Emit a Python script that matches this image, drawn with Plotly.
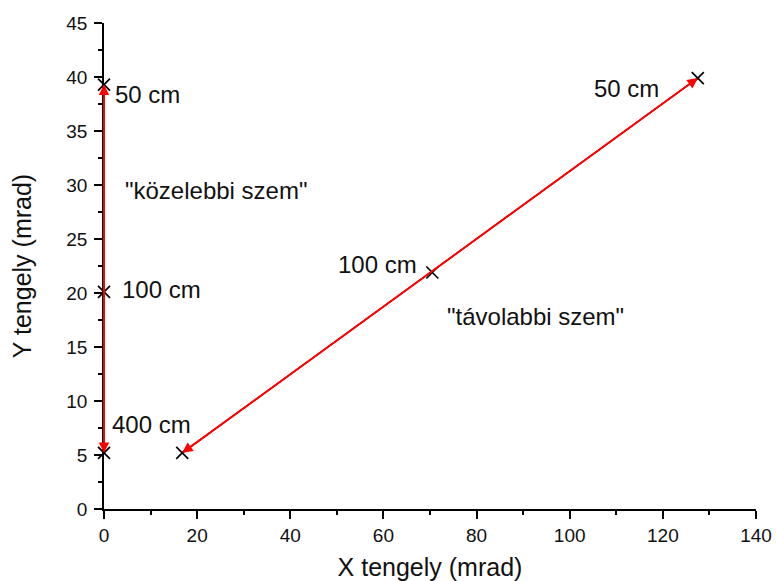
import plotly.graph_objects as go

# Image positions of the two eyes for three object distances
near_x = [0, 0, 0]
near_y = [39.3, 20.1, 5.2]
near_labels = ["50 cm", "100 cm", "400 cm"]

far_x = [16.8, 70.5, 127.5]
far_y = [5.2, 21.9, 39.9]
far_labels = ["", "100 cm", "50 cm"]

FONT = "Liberation Sans, Arial, sans-serif"
INK = "#111111"

fig = go.Figure()

for xs, ys in [(near_x, near_y), (far_x, far_y)]:
    fig.add_trace(go.Scatter(
        x=[xs[0], xs[-1]], y=[ys[0], ys[-1]], mode="lines",
        line=dict(color="red", width=1.6), showlegend=False, hoverinfo="skip",
        cliponaxis=False,
    ))

# double-headed arrows along both tracks
for xs, ys in [(near_x, near_y), (far_x, far_y)]:
    fig.add_annotation(
        x=xs[-1], y=ys[-1], ax=xs[0], ay=ys[0], axref="x", ayref="y",
        xref="x", yref="y", text="", showarrow=True,
        arrowhead=2, arrowsize=1.3, arrowwidth=1.6, arrowcolor="red",
    )
    fig.add_annotation(
        x=xs[0], y=ys[0], ax=xs[-1], ay=ys[-1], axref="x", ayref="y",
        xref="x", yref="y", text="", showarrow=True,
        arrowhead=2, arrowsize=1.3, arrowwidth=1.6, arrowcolor="red",
    )

txt = dict(size=24, color=INK, family=FONT)
# distance labels, near eye
fig.add_annotation(x=near_x[0], y=near_y[0], text=near_labels[0], showarrow=False,
                   xanchor="left", yanchor="middle", xshift=9, yshift=-10, font=txt)
fig.add_annotation(x=near_x[1], y=near_y[1], text=near_labels[1], showarrow=False,
                   xanchor="left", yanchor="middle", xshift=16, yshift=2, font=txt)
fig.add_annotation(x=near_x[2], y=near_y[2], text=near_labels[2], showarrow=False,
                   xanchor="left", yanchor="middle", xshift=6, yshift=28, font=txt)
# distance labels, far eye
fig.add_annotation(x=far_x[1], y=far_y[1], text=far_labels[1], showarrow=False,
                   xanchor="right", yanchor="middle", xshift=-13, yshift=8, font=txt)
fig.add_annotation(x=far_x[2], y=far_y[2], text=far_labels[2], showarrow=False,
                   xanchor="right", yanchor="middle", xshift=-37, yshift=-10, font=txt)

fig.add_annotation(x=4.1, y=29.5, text='"közelebbi szem"', showarrow=False,
                   xanchor="left", yanchor="middle", font=txt)
fig.add_annotation(x=73.2, y=17.8, text='"távolabbi szem"', showarrow=False,
                   xanchor="left", yanchor="middle", font=txt)

# cross markers on top of the red tracks
for xs, ys in [(near_x, near_y), (far_x, far_y)]:
    fig.add_trace(go.Scatter(
        x=xs, y=ys, mode="markers",
        marker=dict(symbol="x-thin", size=12, line=dict(color="black", width=1.7)),
        showlegend=False, cliponaxis=False,
    ))

axis_common = dict(
    showline=True, linecolor="black", linewidth=1.5, showgrid=False, zeroline=False,
    ticks="outside", ticklen=8, tickwidth=1.5, tickcolor="black",
    tickfont=dict(size=19, color=INK, family=FONT),
    minor=dict(ticks="outside", ticklen=4, tickwidth=1.5, tickcolor="black"),
    automargin=False,
)

fig.update_xaxes(range=[0, 140], dtick=20, tick0=0,
                 title=dict(text="X tengely (mrad)", font=dict(size=25, color=INK, family=FONT),
                            standoff=14),
                 **axis_common)
fig.update_xaxes(minor=dict(dtick=10))
fig.update_yaxes(range=[0, 45], dtick=5, tick0=0, ticklabelstandoff=3,
                 title=dict(text="Y tengely (mrad)", font=dict(size=25, color=INK, family=FONT),
                            standoff=28),
                 **axis_common)
fig.update_yaxes(minor=dict(dtick=2.5))

fig.update_layout(
    width=776, height=581,
    margin=dict(l=104, r=20, t=23, b=72, autoexpand=False),
    plot_bgcolor="white", paper_bgcolor="white",
    font=dict(family=FONT),
)

fig.write_html("out.html")
